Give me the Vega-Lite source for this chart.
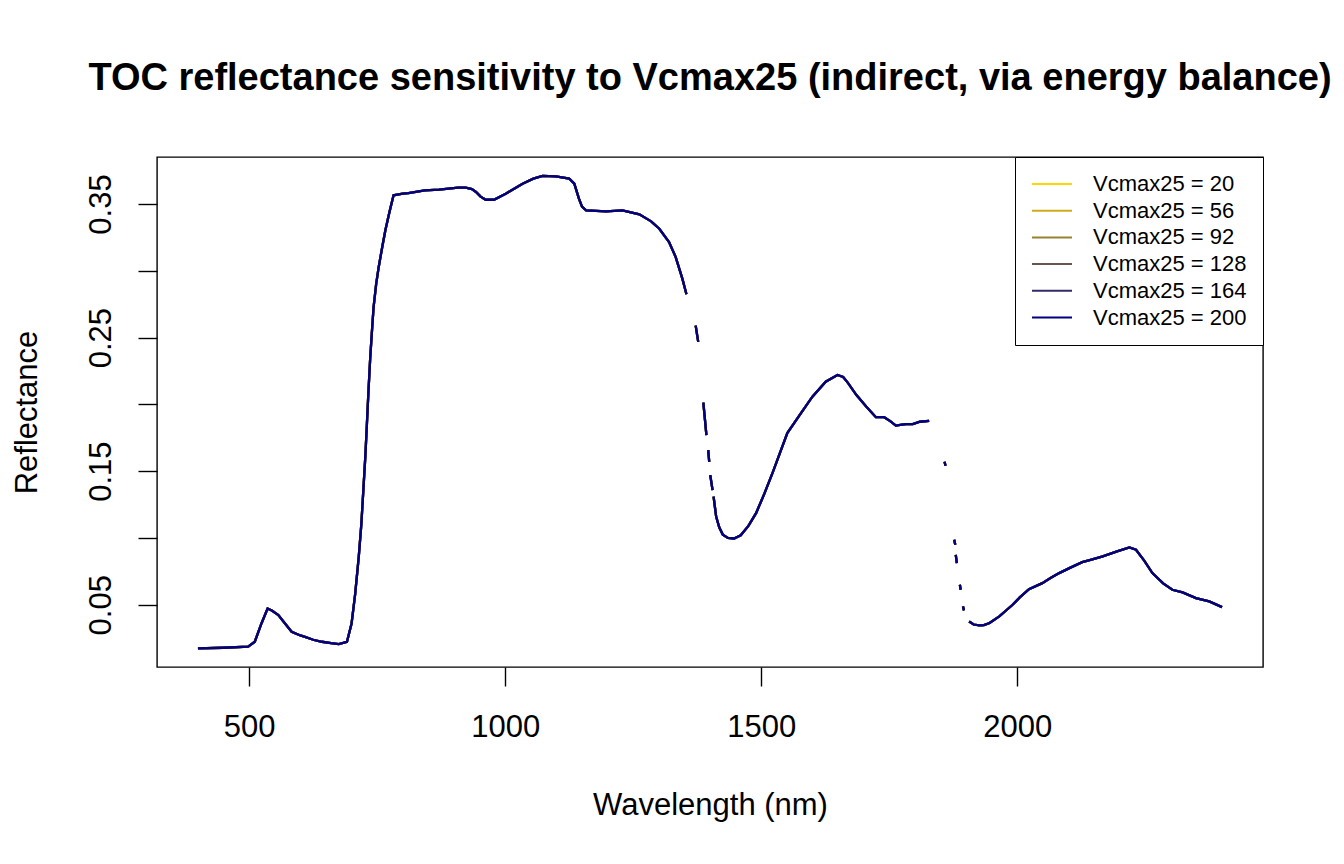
{
"$schema": "https://vega.github.io/schema/vega-lite/v6.json",
"width": 1106,
"height": 510,
"autosize": {"type": "none"},
"padding": {"left": 157, "top": 157, "right": 81, "bottom": 197},
"background": "white",
"config": {
  "font": "Liberation Sans",
  "view": {"stroke": "black", "strokeWidth": 1.4},
  "axis": {"domain": false, "grid": false, "tickColor": "black", "tickWidth": 1.4, "tickSize": 19, "labelColor": "black", "titleColor": "black", "labelFont": "Liberation Sans", "titleFont": "Liberation Sans", "labelFontSize": 31, "titleFontSize": 31, "titleFontWeight": "normal", "labelBaseline": "alphabetic", "titleBaseline": "alphabetic"}
},
"title": {"text": "TOC reflectance sensitivity to Vcmax25 (indirect, via energy balance)", "font": "Liberation Sans", "fontSize": 38, "fontWeight": "bold", "color": "black", "anchor": "middle", "frame": "group", "baseline": "alphabetic", "offset": 29},
"data": {"values": [
{"w":400,"r":0.0173},{"w":450,"r":0.0178},{"w":498,"r":0.0186},{"w":511,"r":0.0223},{"w":524,"r":0.036},{"w":536,"r":0.0472},{"w":545,"r":0.0455},{"w":557,"r":0.0423},{"w":570,"r":0.036},{"w":583,"r":0.0298},{"w":600,"r":0.027},{"w":609,"r":0.026},{"w":625,"r":0.0238},{"w":642,"r":0.0223},{"w":660,"r":0.0212},{"w":675,"r":0.0206},{"w":691,"r":0.0223},{"w":700,"r":0.036},{"w":707,"r":0.058},{"w":714,"r":0.0859},{"w":719,"r":0.11},{"w":723,"r":0.1358},{"w":727,"r":0.162},{"w":730,"r":0.1857},{"w":733,"r":0.21},{"w":736.5,"r":0.2355},{"w":740,"r":0.256},{"w":743,"r":0.2729},{"w":748,"r":0.29},{"w":753,"r":0.3029},{"w":760,"r":0.318},{"w":766,"r":0.3303},{"w":774,"r":0.344},{"w":782,"r":0.3565},{"w":800,"r":0.3578},{"w":811,"r":0.3582},{"w":843,"r":0.3602},{"w":871,"r":0.3607},{"w":908,"r":0.3622},{"w":923,"r":0.3622},{"w":935,"r":0.3612},{"w":943,"r":0.359},{"w":952,"r":0.3555},{"w":962,"r":0.3532},{"w":978,"r":0.3532},{"w":1001,"r":0.3577},{"w":1034,"r":0.3652},{"w":1055,"r":0.369},{"w":1073,"r":0.371},{"w":1099,"r":0.3707},{"w":1125,"r":0.369},{"w":1135,"r":0.3652},{"w":1144,"r":0.354},{"w":1150,"r":0.348},{"w":1158,"r":0.3453},{"w":1197,"r":0.3445},{"w":1229,"r":0.3453},{"w":1262,"r":0.3423},{"w":1285,"r":0.337},{"w":1301,"r":0.3315},{"w":1320,"r":0.3216},{"w":1333,"r":0.3103},{"w":1346,"r":0.2941},{"w":1354,"r":0.2824},
{"w":1363,"r":null},
{"w":1372,"r":0.259},{"w":1377,"r":0.2468},
{"w":1382,"r":null},
{"w":1387,"r":0.2013},{"w":1393,"r":0.177},
{"w":1395,"r":null},
{"w":1396.5,"r":0.1657},{"w":1398.5,"r":0.157},
{"w":1399.5,"r":null},
{"w":1400.5,"r":0.147},{"w":1405,"r":0.1358},
{"w":1406,"r":null},
{"w":1407,"r":0.131},{"w":1412,"r":0.116},{"w":1418,"r":0.108},{"w":1425,"r":0.1025},{"w":1435,"r":0.1},{"w":1447,"r":0.0996},{"w":1460,"r":0.102},{"w":1475,"r":0.109},{"w":1490,"r":0.1186},{"w":1506,"r":0.133},{"w":1522,"r":0.1485},{"w":1537,"r":0.164},{"w":1551,"r":0.1785},{"w":1575,"r":0.192},{"w":1600,"r":0.2058},{"w":1626,"r":0.217},{"w":1649,"r":0.222},{"w":1660,"r":0.2205},{"w":1669,"r":0.2163},{"w":1686,"r":0.207},{"w":1705,"r":0.1984},{"w":1724,"r":0.1904},{"w":1740,"r":0.1904},{"w":1752,"r":0.1875},{"w":1763,"r":0.1841},{"w":1775,"r":0.1848},{"w":1783,"r":0.1852},{"w":1796,"r":0.1852},{"w":1810,"r":0.187},{"w":1828,"r":0.1877},
{"w":1845,"r":null},
{"w":1858,"r":0.157},{"w":1860,"r":0.154},
{"w":1870,"r":null},
{"w":1877,"r":0.0986},{"w":1879,"r":0.0949},
{"w":1879.5,"r":null},
{"w":1880,"r":0.0874},{"w":1882,"r":0.0812},
{"w":1885,"r":null},
{"w":1888,"r":0.065},{"w":1889.5,"r":0.0612},
{"w":1892,"r":null},
{"w":1894,"r":0.0488},{"w":1896,"r":0.0458},
{"w":1900,"r":null},
{"w":1906,"r":0.0375},{"w":1915,"r":0.0352},{"w":1926,"r":0.0345},{"w":1935,"r":0.0348},{"w":1946,"r":0.0363},{"w":1965,"r":0.0413},{"w":1991,"r":0.05},{"w":2005,"r":0.0555},{"w":2023,"r":0.0617},{"w":2049,"r":0.0662},{"w":2065,"r":0.07},{"w":2082,"r":0.0737},{"w":2105,"r":0.078},{"w":2127,"r":0.0819},{"w":2145,"r":0.0838},{"w":2167,"r":0.0862},{"w":2195,"r":0.09},{"w":2219,"r":0.0929},{"w":2232,"r":0.0912},{"w":2248,"r":0.083},{"w":2264,"r":0.0737},{"w":2285,"r":0.066},{"w":2303,"r":0.0612},{"w":2323,"r":0.0592},{"w":2349,"r":0.055},{"w":2375,"r":0.0525},{"w":2400,"r":0.0482}
]},
"encoding": {
  "x": {"field": "w", "type": "quantitative", "scale": {"domain": [320, 2480], "nice": false, "zero": false}, "axis": {"values": [500, 1000, 1500, 2000], "format": "d", "title": "Wavelength (nm)", "labelPadding": 50, "titlePadding": 72, "labelFlush": false}},
  "y": {"field": "r", "type": "quantitative", "scale": {"domain": [0.0034, 0.3852], "nice": false, "zero": false}, "axis": {"values": [0.05, 0.1, 0.15, 0.2, 0.25, 0.3, 0.35], "labelExpr": "indexof([0.05, 0.15, 0.25, 0.35], datum.value) >= 0 ? format(datum.value, '.2f') : ''", "labelAngle": -90, "labelAlign": "center", "labelPadding": 28, "title": "Reflectance", "titlePadding": 49, "labelFlush": false}}
},
"layer": [
  {"mark": {"type": "line", "strokeWidth": 2.3, "invalid": "break-paths-show-domains"}, "encoding": {"color": {"datum": "Vcmax25 = 20", "scale": {"domain": ["Vcmax25 = 20", "Vcmax25 = 56", "Vcmax25 = 92", "Vcmax25 = 128", "Vcmax25 = 164", "Vcmax25 = 200"], "range": ["#FFD700", "#CCAC1A", "#998133", "#66564D", "#332B66", "#000080"]}, "legend": {"title": null, "orient": "top-right", "offset": 0, "strokeColor": "black", "fillColor": "white", "padding": 16, "symbolType": "M-1,0L3,0", "symbolSize": 400, "symbolStrokeWidth": 2, "labelFontSize": 22, "labelFont": "Liberation Sans", "labelColor": "black", "labelOffset": 40, "rowPadding": 4.7, "labelLimit": 400}}}},
  {"mark": {"type": "line", "strokeWidth": 2.3, "invalid": "break-paths-show-domains"}, "encoding": {"color": {"datum": "Vcmax25 = 56"}}},
  {"mark": {"type": "line", "strokeWidth": 2.3, "invalid": "break-paths-show-domains"}, "encoding": {"color": {"datum": "Vcmax25 = 92"}}},
  {"mark": {"type": "line", "strokeWidth": 2.3, "invalid": "break-paths-show-domains"}, "encoding": {"color": {"datum": "Vcmax25 = 128"}}},
  {"mark": {"type": "line", "strokeWidth": 2.3, "invalid": "break-paths-show-domains"}, "encoding": {"color": {"datum": "Vcmax25 = 164"}}},
  {"mark": {"type": "line", "strokeWidth": 2.3, "invalid": "break-paths-show-domains"}, "encoding": {"color": {"datum": "Vcmax25 = 200"}}}
]
}
